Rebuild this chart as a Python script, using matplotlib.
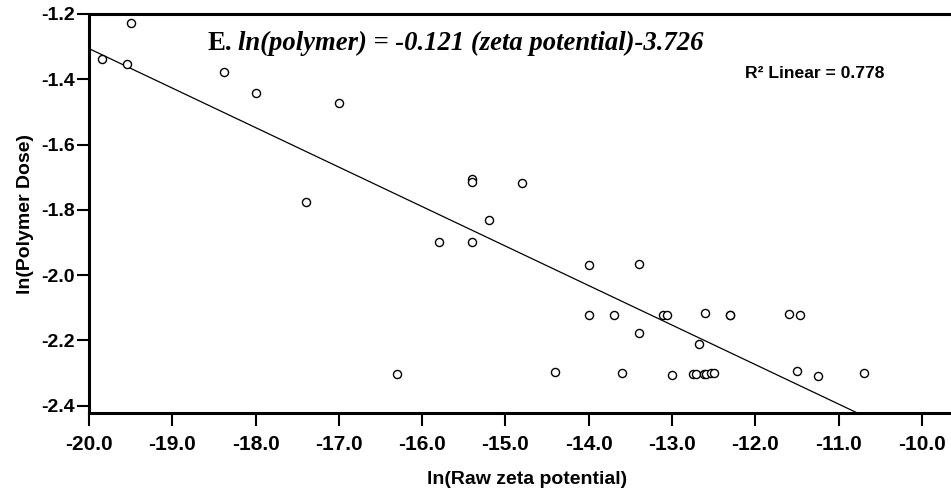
import matplotlib
matplotlib.use("Agg")
import matplotlib.pyplot as plt
import numpy as np

# Data
zeta = [-19.50, -19.84, -19.54, -18.38, -18.00, -17.00, -17.40,
        -15.40, -15.40, -15.80, -15.40, -14.80, -15.20, -16.30,
        -14.00, -13.40, -14.00, -13.70, -13.11, -13.06, -12.60,
        -12.30, -12.30, -11.60, -11.46, -13.40, -12.67,
        -14.40, -13.60, -13.00, -12.75, -12.71, -12.61, -12.59,
        -12.53, -12.50, -11.50, -11.25, -10.69]
polymer = [-1.229, -1.337, -1.354, -1.378, -1.442, -1.473, -1.776,
           -1.706, -1.714, -1.898, -1.898, -1.719, -1.831, -2.304,
           -1.968, -1.967, -2.121, -2.121, -2.122, -2.122, -2.116,
           -2.121, -2.121, -2.118, -2.123, -2.178, -2.210,
           -2.296, -2.300, -2.305, -2.304, -2.304, -2.304, -2.304,
           -2.300, -2.300, -2.293, -2.309, -2.301]
fit_slope = -0.121
fit_intercept = -3.726
r2 = 0.778
x_ticks = [-20.0, -19.0, -18.0, -17.0, -16.0, -15.0, -14.0, -13.0, -12.0, -11.0, -10.0]
y_ticks = [-2.4, -2.2, -2.0, -1.8, -1.6, -1.4, -1.2]

W, H = 951, 491
fig = plt.figure(figsize=(W / 100, H / 100), dpi=100)
fig.patch.set_facecolor("white")

left_px, right_px, top_px, bottom_px = 89, 966, 14, 413
ax = fig.add_axes([left_px / W, 1 - bottom_px / H,
                   (right_px - left_px) / W, (bottom_px - top_px) / H])

ax.scatter(zeta, polymer, s=34, facecolors="white", edgecolors="black",
           linewidths=1.0, zorder=3)

xl = (-20.0, -9.47)
ax.set_xlim(*xl)
ax.set_ylim(-2.4224, -1.2)
xs = np.array(xl)
ax.plot(xs, fit_slope * xs + fit_intercept, color="black", lw=0.9, zorder=2)

ax.set_xticks(x_ticks)
ax.set_xticklabels([f"{v:.1f}" for v in x_ticks],
                   fontfamily="Liberation Sans", fontweight="bold", fontsize=15)
ax.set_yticks(y_ticks)
ax.set_yticklabels([f"{v:.1f}" for v in y_ticks],
                   fontfamily="Liberation Sans", fontweight="bold", fontsize=14)
ax.tick_params(axis="x", direction="out", length=9, width=1.5, pad=7)
ax.tick_params(axis="y", direction="out", length=9, width=1.5, pad=1)

for s in ["left", "bottom", "top"]:
    ax.spines[s].set_linewidth(2.2)
ax.spines["right"].set_visible(False)

ax.set_xlabel("ln(Raw zeta potential)", fontfamily="Liberation Sans",
              fontweight="bold", fontsize=14, labelpad=12)
ax.set_ylabel("ln(Polymer Dose)", fontfamily="Liberation Sans",
              fontweight="bold", fontsize=14, labelpad=5)

fig.text(208 / W, 1 - 50 / H, "E.", fontfamily="Liberation Serif",
         fontweight="bold", fontsize=19.3, va="baseline", ha="left")
fig.text(238 / W, 1 - 50 / H,
         f"ln(polymer) = {fit_slope:.3f} (zeta potential){fit_intercept:.3f}",
         fontfamily="Liberation Serif", fontweight="bold", fontstyle="italic",
         fontsize=19.2, va="baseline", ha="left")
fig.text(745 / W, 1 - 78 / H, f"R\u00b2 Linear = {r2:.3f}",
         fontfamily="Liberation Sans", fontweight="bold", fontsize=12.6,
         va="baseline", ha="left")

fig.savefig("out.png", dpi=100)
